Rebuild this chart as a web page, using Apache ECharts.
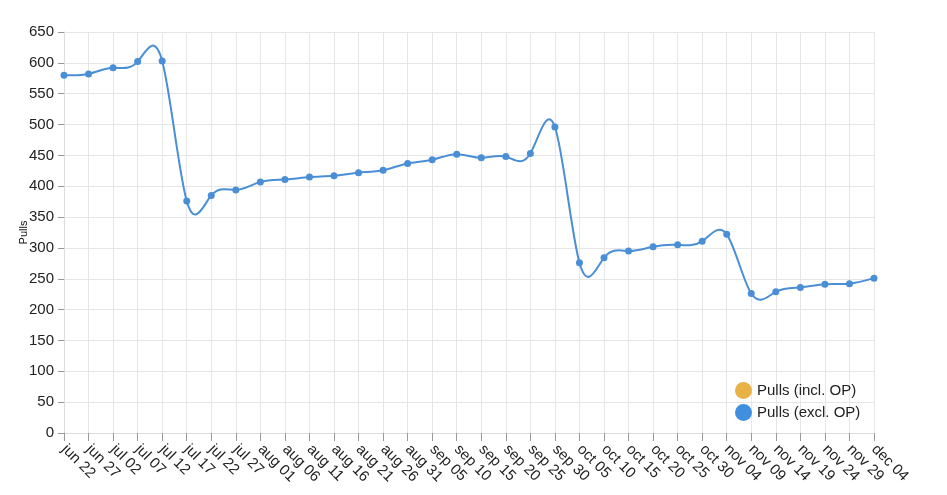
<!DOCTYPE html>
<html>
<head>
<meta charset="UTF-8">
<script src="https://cdn.jsdelivr.net/npm/echarts@6/dist/echarts.min.js"></script>
<style>
  html, body { margin: 0; padding: 0; background: #fff; }
  #chart { width: 947px; height: 495px; }
</style>
</head>
<body>
<div id="chart"></div>
<script>
// categories (every 5 days)
const dates = [
  'jun 22', 'jun 27', 'jul 02', 'jul 07', 'jul 12', 'jul 17', 'jul 22', 'jul 27',
  'aug 01', 'aug 06', 'aug 11', 'aug 16', 'aug 21', 'aug 26', 'aug 31',
  'sep 05', 'sep 10', 'sep 15', 'sep 20', 'sep 25', 'sep 30',
  'oct 05', 'oct 10', 'oct 15', 'oct 20', 'oct 25', 'oct 30',
  'nov 04', 'nov 09', 'nov 14', 'nov 19', 'nov 24', 'nov 29', 'dec 04'
];

// pulls excluding OP
const pullsExcl = [
  580, 582, 592, 602, 603, 376, 385, 394,
  407, 411, 415, 417, 422, 426, 437,
  443, 452, 446, 448, 453, 496,
  276, 284, 295, 302, 305, 311,
  322, 226, 229, 236, 241, 242, 251
];

// pulls including OP (not drawn in the reference)
const pullsIncl = [];

const LINE_COLOR = '#4a8fd6';

// natural cubic spline control points (same as d3 curveNatural)
function controlPoints(x) {
  const n = x.length - 1;
  const a = new Array(n), b = new Array(n), r = new Array(n);
  a[0] = 0; b[0] = 2; r[0] = x[0] + 2 * x[1];
  for (let i = 1; i < n - 1; ++i) { a[i] = 1; b[i] = 4; r[i] = 4 * x[i] + 2 * x[i + 1]; }
  a[n - 1] = 2; b[n - 1] = 7; r[n - 1] = 8 * x[n - 1] + x[n];
  for (let i = 1; i < n; ++i) {
    const m = a[i] / b[i - 1];
    b[i] -= m;
    r[i] -= m * r[i - 1];
  }
  a[n - 1] = r[n - 1] / b[n - 1];
  for (let i = n - 2; i >= 0; --i) a[i] = (r[i] - a[i + 1]) / b[i];
  b[n - 1] = (x[n] + a[n - 1]) / 2;
  for (let i = 0; i < n - 1; ++i) b[i] = 2 * x[i + 1] - a[i + 1];
  return [a, b];
}

function renderSegment(params, api) {
  const i = params.dataIndex;
  if (i >= pullsExcl.length - 1) return null;
  const pts = pullsExcl.map((v, k) => api.coord([k, v]));
  const px = controlPoints(pts.map(p => p[0]));
  const py = controlPoints(pts.map(p => p[1]));
  return {
    type: 'bezierCurve',
    shape: {
      x1: pts[i][0], y1: pts[i][1],
      cpx1: px[0][i], cpy1: py[0][i],
      cpx2: px[1][i], cpy2: py[1][i],
      x2: pts[i + 1][0], y2: pts[i + 1][1]
    },
    style: { stroke: LINE_COLOR, lineWidth: 2, fill: null }
  };
}

const chart = echarts.init(document.getElementById('chart'));

chart.setOption({
  animation: false,
  textStyle: { fontFamily: 'Liberation Sans, Arial, sans-serif' },
  grid: { left: 64, right: 73, top: 32, bottom: 62 },
  legend: {
    orient: 'vertical',
    left: 730,
    top: 377,
    icon: 'circle',
    itemWidth: 17,
    itemHeight: 17,
    itemGap: 5,
    textStyle: { fontSize: 15, color: '#222' },
    data: ['Pulls (incl. OP)', 'Pulls (excl. OP)']
  },
  xAxis: {
    type: 'category',
    data: dates,
    boundaryGap: false,
    axisLine: { lineStyle: { color: '#dcdcdc', width: 1 } },
    axisTick: { alignWithLabel: true, length: 8, lineStyle: { color: '#999' } },
    axisLabel: {
      rotate: -45,
      interval: 0,
      fontSize: 15,
      color: '#222',
      margin: 14
    },
    splitLine: { show: true, lineStyle: { color: '#e6e6e6' } }
  },
  yAxis: {
    type: 'value',
    min: 0,
    max: 650,
    interval: 50,
    name: 'Pulls',
    nameLocation: 'middle',
    nameGap: 35,
    nameMoveOverlap: false,
    nameTextStyle: { fontSize: 11, color: '#111' },
    axisLine: { show: true, lineStyle: { color: '#dcdcdc' } },
    axisTick: { show: true, length: 6, lineStyle: { color: '#999' } },
    axisLabel: { fontSize: 15, color: '#222', margin: 10 },
    splitLine: { lineStyle: { color: '#e6e6e6' } }
  },
  series: [
    {
      name: 'Pulls (incl. OP)',
      type: 'line',
      data: pullsIncl,
      itemStyle: { color: '#e8b247' }
    },
    {
      name: 'Pulls (excl. OP)',
      type: 'custom',
      renderItem: renderSegment,
      data: pullsExcl.map((v, i) => [i, v]),
      encode: { x: 0, y: 1 },
      itemStyle: { color: '#4190e0' },
      z: 2
    },
    {
      name: 'Pulls (excl. OP)',
      type: 'scatter',
      data: pullsExcl.map((v, i) => [i, v]),
      symbol: 'circle',
      symbolSize: 7,
      itemStyle: { color: LINE_COLOR, opacity: 1 },
      z: 3
    }
  ]
});
</script>
</body>
</html>
